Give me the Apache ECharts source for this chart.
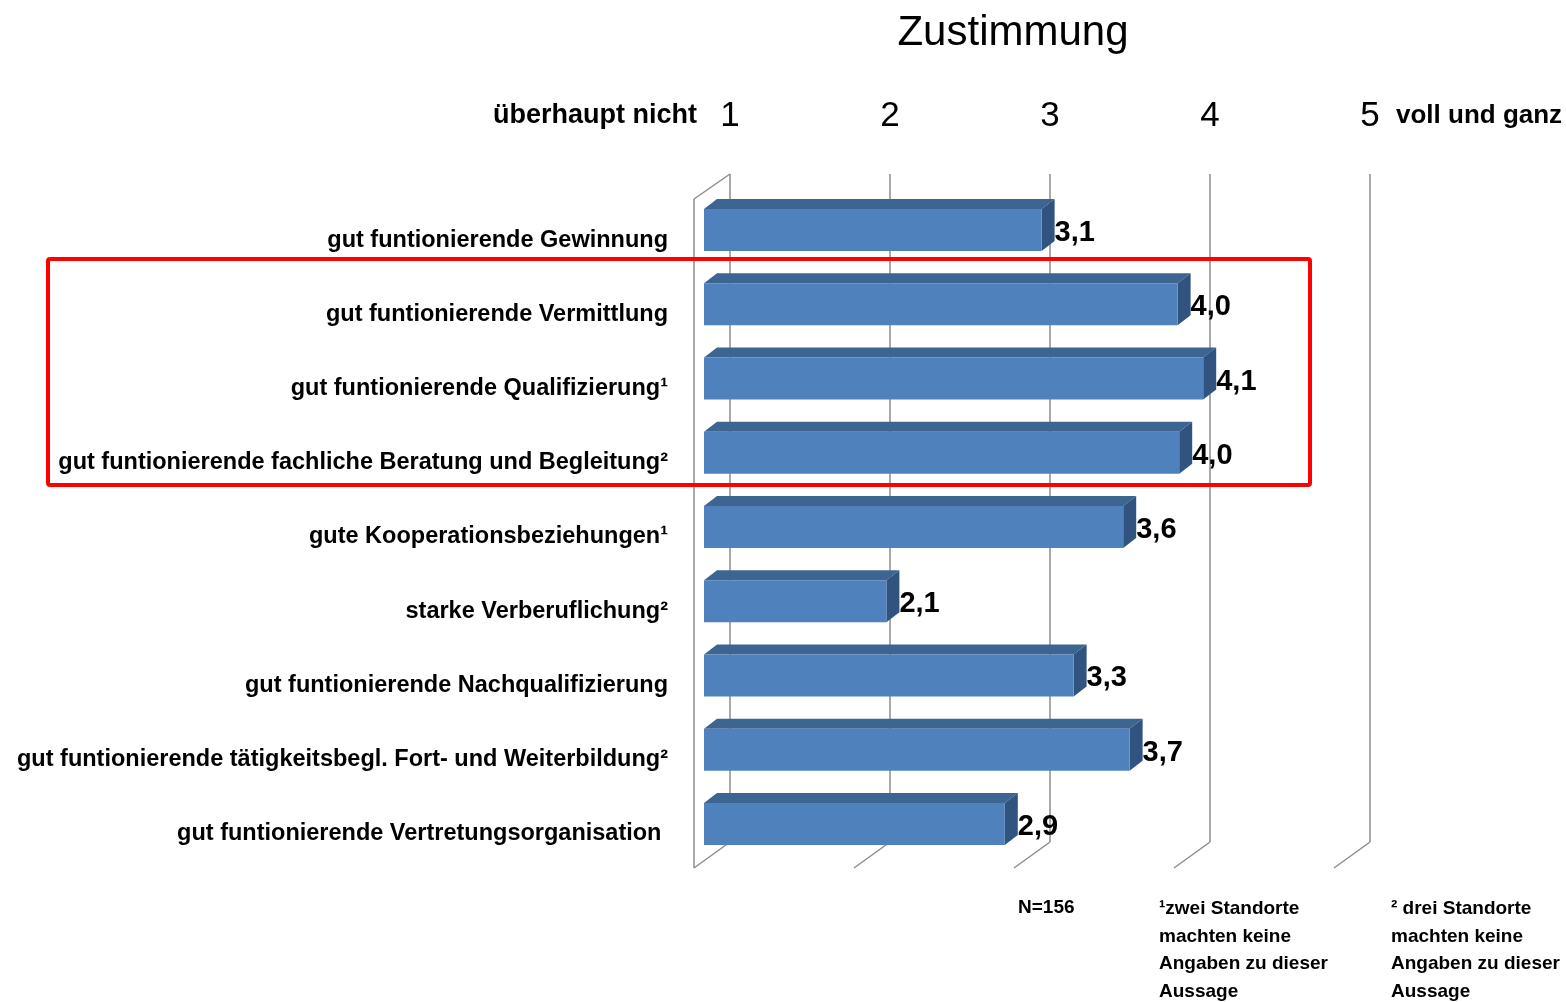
<!DOCTYPE html>
<html>
<head>
<meta charset="utf-8">
<script src="https://cdn.jsdelivr.net/npm/echarts@6/dist/echarts.min.js"></script>
<style>html,body{margin:0;padding:0;background:#fff}#c{width:1566px;height:1002px}</style>
</head>
<body>
<div id="c"></div>
<script>
var categories = [
  'gut funtionierende Gewinnung',
  'gut funtionierende Vermittlung',
  'gut funtionierende Qualifizierung\u00B9',
  'gut funtionierende fachliche Beratung und Begleitung\u00B2',
  'gute Kooperationsbeziehungen\u00B9',
  'starke Verberuflichung\u00B2',
  'gut funtionierende Nachqualifizierung',
  'gut funtionierende t\u00E4tigkeitsbegl. Fort- und Weiterbildung\u00B2',
  'gut funtionierende Vertretungsorganisation '
];
var values = [3.11, 3.96, 4.12, 3.97, 3.62, 2.14, 3.31, 3.66, 2.88];
var tickValues = [1, 2, 3, 4, 5];
var titleText = 'Zustimmung';
var leftEndLabel = '\u00FCberhaupt nicht';
var rightEndLabel = 'voll und ganz';
var footN = 'N=156';
var foot1 = ['\u00B9zwei Standorte', 'machten keine', 'Angaben zu dieser', 'Aussage'];
var foot2 = ['\u00B2 drei Standorte', 'machten keine', 'Angaben zu dieser', 'Aussage'];

var chart = echarts.init(document.getElementById('c'), null, {renderer: 'canvas'});
var DX = 36, DY = 26; // full depth offset (back -> front)
var gridColor = '#8c8c8c';

function renderFrame(params, api) {
  var v = api.value(0);
  var cs = params.coordSys;
  var p = api.coord([v, 0]);
  var x = p[0];
  var top = cs.y, bottom = cs.y + cs.height;
  var children = [{
    type: 'line',
    shape: {x1: x, y1: bottom, x2: x - DX, y2: bottom + DY},
    style: {stroke: gridColor, lineWidth: 1.5}
  }];
  if (v === 1) {
    children.push({
      type: 'line',
      shape: {x1: x - DX, y1: top + DY - 1, x2: x - DX, y2: bottom + DY},
      style: {stroke: gridColor, lineWidth: 1.5}
    });
    children.push({
      type: 'line',
      shape: {x1: x, y1: top, x2: x - DX, y2: top + DY - 1},
      style: {stroke: gridColor, lineWidth: 1.5}
    });
  }
  return {type: 'group', children: children};
}

function renderBar(params, api) {
  var v = api.value(0), i = api.value(1);
  var p0 = api.coord([1, i]);
  var p1 = api.coord([v, i]);
  var fx0 = p0[0] - 26, fx1 = p1[0] - 26;
  var fy0 = p0[1] - 2, fy1 = fy0 + 42;
  var dx = 13, dy = -10;
  var front = '#4F81BD', topC = '#3D6591', side = '#30547F';
  return {
    type: 'group',
    children: [
      {type: 'polygon', shape: {points: [[fx0, fy0], [fx1, fy0], [fx1 + dx, fy0 + dy], [fx0 + dx, fy0 + dy]]}, style: {fill: topC}},
      {type: 'polygon', shape: {points: [[fx1, fy0], [fx1 + dx, fy0 + dy], [fx1 + dx, fy1 + dy], [fx1, fy1]]}, style: {fill: side}},
      {type: 'rect', shape: {x: fx0, y: fy0, width: fx1 - fx0, height: fy1 - fy0}, style: {fill: front}},
      {type: 'text', x: fx1 + dx, y: p0[1] + 22,
        style: {text: v.toFixed(1).replace('.', ','), fill: '#000', font: 'bold 29px "Liberation Sans"', verticalAlign: 'middle', align: 'left'}}
    ]
  };
}

var graphics = [
  {type: 'text', style: {text: titleText, x: 1013, y: 33, align: 'center', verticalAlign: 'middle', font: '42px "Liberation Sans"', fill: '#000'}},
  {type: 'text', style: {text: leftEndLabel, x: 697, y: 116, align: 'right', verticalAlign: 'middle', font: 'bold 27px "Liberation Sans"', fill: '#000'}},
  {type: 'text', style: {text: rightEndLabel, x: 1396, y: 116, align: 'left', verticalAlign: 'middle', font: 'bold 26px "Liberation Sans"', fill: '#000'}},
  {type: 'rect', shape: {x: 48, y: 259, width: 1262, height: 226, r: 2}, style: {fill: 'none', stroke: '#ff0000', lineWidth: 4}, z: 100},
  {type: 'text', style: {text: footN, x: 1018, y: 908, verticalAlign: 'middle', font: 'bold 19px "Liberation Sans"', fill: '#000'}},
  {type: 'text', style: {text: foot1.join('\n'), x: 1159, y: 895, lineHeight: 27.7, verticalAlign: 'top', font: 'bold 19px "Liberation Sans"', fill: '#000'}},
  {type: 'text', style: {text: foot2.join('\n'), x: 1391, y: 895, lineHeight: 27.7, verticalAlign: 'top', font: 'bold 19px "Liberation Sans"', fill: '#000'}}
];

chart.setOption({
  animation: false,
  backgroundColor: '#fff',
  grid: {left: 730, right: 196, top: 174, height: 668},
  xAxis: {
    type: 'value', position: 'top', min: 1, max: 5, interval: 1,
    axisLine: {show: false}, axisTick: {show: false},
    axisLabel: {fontSize: 35, color: '#000', margin: 40, fontFamily: 'Liberation Sans'},
    splitLine: {show: true, lineStyle: {color: gridColor, width: 1.5}}
  },
  yAxis: {
    type: 'category', inverse: true, data: categories,
    axisLine: {show: false}, axisTick: {show: false},
    axisLabel: {fontSize: 23.5, fontWeight: 'bold', color: '#000', margin: 62, fontFamily: 'Liberation Sans',
      verticalAlign: 'middle', lineHeight: 58, interval: 0, showMinLabel: true, showMaxLabel: true, hideOverlap: false,
      formatter: function (v) { return '\n' + v; }}
  },
  graphic: graphics,
  series: [
    {type: 'custom', renderItem: renderFrame, data: tickValues.map(function (t) { return [t, 0]; }), encode: {x: 0, y: 1}, z: 1, silent: true},
    {type: 'custom', renderItem: renderBar, data: values.map(function (v, i) { return [v, i]; }), encode: {x: 0, y: 1}, z: 2}
  ]
});
</script>
</body>
</html>
